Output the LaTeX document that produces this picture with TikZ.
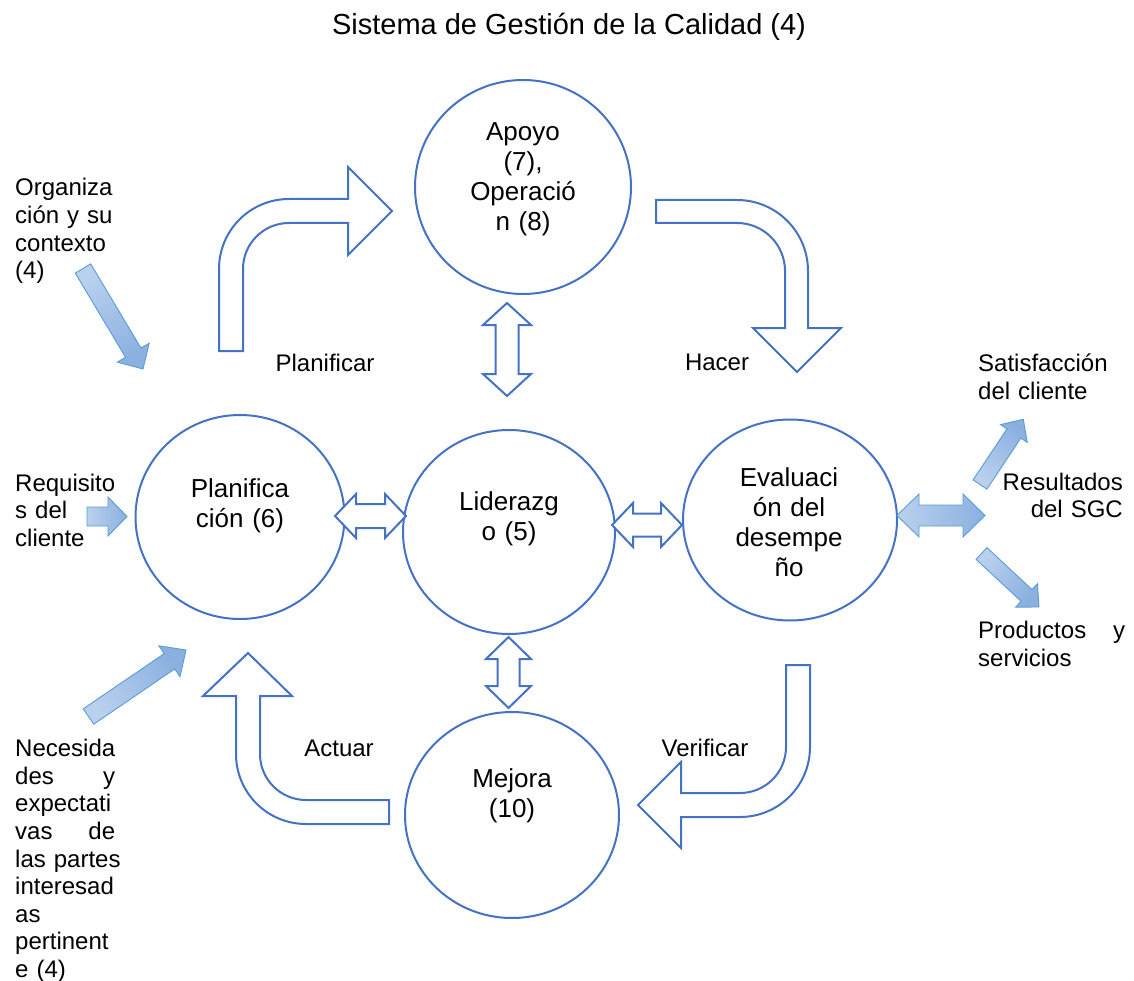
\documentclass[tikz,border=0pt]{standalone}
\usepackage{fontspec}
\setmainfont{Liberation Sans}
\usetikzlibrary{calc,shapes.geometric}

\definecolor{circblue}{HTML}{4472C4}
\definecolor{arrowline}{HTML}{5B9BD5}
\definecolor{gradlight}{HTML}{BAD1EE}
\definecolor{graddark}{HTML}{8AB0E0}

\tikzset{
  stage/.style={draw=circblue, line width=2pt, ellipse, inner sep=0pt},
  outlinearrow/.style={draw=circblue, line width=2pt, fill=white, line join=miter},
  gradarrow/.style={draw=arrowline, line width=0.9pt, left color=gradlight, right color=graddark},
  stagetext/.style={font=\fontsize{26}{30}\selectfont, text width=140pt, align=center, inner sep=0pt, anchor=base},
  sidetext/.style={font=\fontsize{24}{27.6}\selectfont, inner sep=0pt, anchor=base west, align=left},
  steplabel/.style={font=\fontsize{24}{27.6}\selectfont, inner sep=0pt, anchor=base},
}

% two-headed outline block arrow, vertical: x, top tip, bottom tip, head length, head half width, shaft half width
\newcommand\blockpairv[6]{%
  \draw[outlinearrow] (#1,#2) -- ({#1+#5},{#2+#4}) -- ({#1+#6},{#2+#4}) -- ({#1+#6},{#3-#4})
    -- ({#1+#5},{#3-#4}) -- (#1,#3) -- ({#1-#5},{#3-#4}) -- ({#1-#6},{#3-#4})
    -- ({#1-#6},{#2+#4}) -- ({#1-#5},{#2+#4}) -- cycle;}
% two-headed outline block arrow, horizontal: y, left tip, right tip, head length, head half width, shaft half width
\newcommand\blockpairh[6]{%
  \draw[outlinearrow] (#2,#1) -- ({#2+#4},{#1-#5}) -- ({#2+#4},{#1-#6}) -- ({#3-#4},{#1-#6})
    -- ({#3-#4},{#1-#5}) -- (#3,#1) -- ({#3-#4},{#1+#5}) -- ({#3-#4},{#1+#6})
    -- ({#2+#4},{#1+#6}) -- ({#2+#4},{#1+#5}) -- cycle;}
% shaded block arrow: tail, tip, shaft half width, head half width, head length, shading angle
\newcommand\shadedarrow[6]{%
  \coordinate (sa-base) at ($(#2)!#5!(#1)$);
  \path[gradarrow, shading angle=#6] ($(#1)!#3!90:(#2)$) -- ($(sa-base)!#3!-90:(#1)$)
    -- ($(sa-base)!#4!-90:(#1)$) -- (#2) -- ($(sa-base)!#4!90:(#1)$)
    -- ($(sa-base)!#3!90:(#1)$) -- ($(#1)!#3!-90:(#2)$) -- cycle;}

\begin{document}
\begin{tikzpicture}[x=1pt,y=-1pt]
\useasboundingbox (0,0) rectangle (1134,981);

% title
\node[font=\fontsize{29}{33}\selectfont, inner sep=0pt, anchor=base] (title) at (569,35)
  {Sistema de Gestión de la Calidad (4)};

% the five process stages
\node[stage, minimum width=216pt, minimum height=214pt] (apoyo) at (523,187) {};
\node[stage, minimum width=209pt, minimum height=204pt] (plan) at (240,517) {};
\node[stage, minimum width=212pt, minimum height=204pt] (lider) at (509,532) {};
\node[stage, minimum width=214pt, minimum height=201pt] (eval) at (790,520) {};
\node[stage, minimum width=214pt, minimum height=206pt] (mejora) at (512,815) {};

\node[stagetext] (apoyoText) at (523,141) {Apoyo\\(7),\\Operació\\n (8)};
\node[stagetext] (planText) at (240,497) {Planifica\\ción (6)};
\node[stagetext] (liderText) at (509,510.5) {Liderazg\\o (5)};
\node[stagetext] (evalText) at (789,486) {Evaluaci\\ón del\\desempe\\ño};
\node[stagetext] (mejoraText) at (512,787) {Mejora\\(10)};

% PDCA bent arrows
% Planificar
\draw[outlinearrow] (219,351) -- (219,269) .. controls (219,230.3) and (250.3,199) .. (289,199)
  -- (348,199) -- (348,167) -- (392,211) -- (348,255) -- (348,223) -- (289,223)
  .. controls (263.6,223) and (243,243.6) .. (243,269) -- (243,351) -- cycle;
% Hacer
\draw[outlinearrow] (656,200) -- (737,200) .. controls (776.2,200) and (808,231.8) .. (808,271)
  -- (808,328) -- (841,328) -- (797,372) -- (753,328) -- (785,328) -- (785,271)
  .. controls (785,244.5) and (763.5,223) .. (737,223) -- (656,223) -- cycle;
% Verificar
\draw[outlinearrow] (786,665) -- (810,665) -- (810,747) .. controls (810,785.7) and (778.7,817) .. (740,817)
  -- (681,817) -- (681,848) -- (638,805) -- (681,762) -- (681,793) -- (740,793)
  .. controls (765.4,793) and (786,772.4) .. (786,747) -- cycle;
% Actuar
\draw[outlinearrow] (248,653) -- (292,696) -- (260,696) -- (260,754)
  .. controls (260,779.4) and (280.6,800) .. (306,800) -- (389,800) -- (389,824) -- (306,824)
  .. controls (267.3,824) and (236,792.7) .. (236,754) -- (236,696) -- (203,696) -- cycle;

\node[steplabel] (planificar) at (325,371) {Planificar};
\node[steplabel] (hacer) at (717,370) {Hacer};
\node[steplabel] (actuar) at (339,756) {Actuar};
\node[steplabel] (verificar) at (705,756) {Verificar};

% links with Liderazgo
\blockpairv{507}{303}{396}{22}{24}{11.5}
\blockpairv{508.5}{637}{708}{22}{22.5}{11}
\blockpairh{516}{335}{406}{21}{22}{12}
\blockpairh{525}{612}{682}{21}{22}{11.5}

% inputs
\node[sidetext, text width=110pt] (contexto) at (15,196) {Organiza\\ción y su\\contexto\\(4)};
\node[sidetext, text width=110pt] (requisitos) at (15,491) {Requisito\\s del\\cliente};
\node[sidetext, text width=100pt] (necesidades) at (15,756.6)
  {Necesida\\des\hfill y\\expectati\\vas\hfill de\\\mbox{las partes}\\interesad\\as\\pertinent\\e (4)};

\coordinate (ctxTail) at (83,268.5);
\coordinate (ctxTip) at (143,369);
\coordinate (reqTail) at (87,516.5);
\coordinate (reqTip) at (127,516.5);
\coordinate (necTail) at (88.5,716.5);
\coordinate (necTip) at (186,650);
\shadedarrow{ctxTail}{ctxTip}{9pt}{18.5pt}{19pt}{31}
\shadedarrow{reqTail}{reqTip}{9.5pt}{19.5pt}{19pt}{90}
\shadedarrow{necTail}{necTip}{9.3pt}{18.7pt}{20pt}{124}

% outputs
\path[gradarrow, shading angle=90] (897,515.5) -- (919,494) -- (919,505) -- (963,505) -- (963,494)
  -- (985,515.5) -- (963,537) -- (963,526) -- (919,526) -- (919,537) -- cycle;
\coordinate (satTail) at (980,484.5);
\coordinate (satTip) at (1023.3,419.3);
\coordinate (prodTail) at (981.5,553.5);
\coordinate (prodTip) at (1039,607);
\shadedarrow{satTail}{satTip}{8.3pt}{16pt}{17pt}{146}
\shadedarrow{prodTail}{prodTip}{8pt}{16pt}{17pt}{47}

\node[sidetext, text width=150pt] (satisfaccion) at (978,371.6) {Satisfacción\\del cliente};
\node[font=\fontsize{24}{27.6}\selectfont, inner sep=0pt, anchor=base east, text width=130pt, align=right]
  (resultados) at (1123,490) {Resultados\\del SGC};
\node[sidetext, text width=147pt] (productos) at (978,638.6) {Productos\hfill y\\servicios};
\end{tikzpicture}
\end{document}
